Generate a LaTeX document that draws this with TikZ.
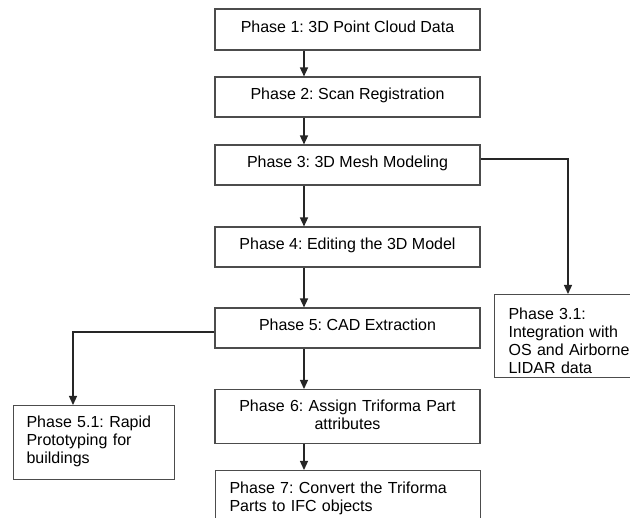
\documentclass[tikz,border=0pt]{standalone}
\usepackage{fontspec}
\setmainfont{Liberation Sans}
\usetikzlibrary{arrows.meta,calc}
\frenchspacing

% invisible struts that set the space above the first line and below the last
\newcommand{\topgap}[1]{\rule{0pt}{#1}}
\newcommand{\botgap}[1]{\rule[-#1]{0pt}{0pt}}

\begin{document}
\begin{tikzpicture}[x=1pt,y=-1pt,
  box/.style={draw=black!70, line width=1.1pt, inner sep=0pt,
    font=\fontsize{16}{18}\selectfont},
  mainbox/.style={box, minimum width=265pt, text height=12pt, text depth=6pt},
  arr/.style={draw=black!85, line width=1.3pt,
    -{Triangle[length=9pt,width=8pt]}}
]
\useasboundingbox (0,0) rectangle (630,518);

% main column
\node[mainbox, minimum height=41pt] (b1) at (347.5,29.5) {Phase 1: 3D Point Cloud Data};
\node[mainbox, minimum height=40pt] (b2) at (347.5,97) {Phase 2: Scan Registration};
\node[mainbox, minimum height=40pt] (b3) at (347.5,165) {Phase 3: 3D Mesh Modeling};
\node[mainbox, minimum height=40pt] (b4) at (347.5,247) {Phase 4: Editing the 3D Model};
\node[mainbox, minimum height=40pt] (b5) at (347.5,328) {Phase 5: CAD Extraction};
\node[box, anchor=north, minimum width=265pt, text width=245pt, align=center] (b6)
      at (347.5,389)
      {\topgap{21.7pt}Phase 6: Assign Triforma Part\\attributes\botgap{14pt}};
\node[box, anchor=north west, minimum width=265pt, inner xsep=14pt, text width=237pt,
      align=left] (b7) at (215,470)
      {\topgap{23pt}Phase 7: Convert the Triforma\\Parts to IFC objects\botgap{30pt}};

% side branches
\node[box, anchor=north west, inner xsep=14pt, text width=130pt, align=left] (b31)
      at (494,294)
      {\topgap{24.7pt}Phase 3.1:\\Integration with\\OS and Airborne\\LIDAR data\botgap{4.3pt}};
\node[box, anchor=north west, inner xsep=13pt, text width=135pt, align=left] (b51)
      at (13,405)
      {\topgap{22pt}Phase 5.1: Rapid\\Prototyping for\\buildings\botgap{16pt}};

% connector axis and junctions
\coordinate (ax) at (304,0);
\coordinate (j3) at (568,159);
\coordinate (j5) at (73,332);

\draw[arr] (b1.south -| ax) -- (b2.north -| ax);
\draw[arr] (b2.south -| ax) -- (b3.north -| ax);
\draw[arr] (b3.south -| ax) -- (b4.north -| ax);
\draw[arr] (b4.south -| ax) -- (b5.north -| ax);
\draw[arr] (b5.south -| ax) -- (b6.north -| ax);
\draw[arr] (b6.south -| ax) -- (b7.north -| ax);

\draw[arr] (b3.east |- j3) -- (j3) -- (j3 |- b31.north);
\draw[arr] (b5.west |- j5) -- (j5) -- (j5 |- b51.north);
\end{tikzpicture}
\end{document}
